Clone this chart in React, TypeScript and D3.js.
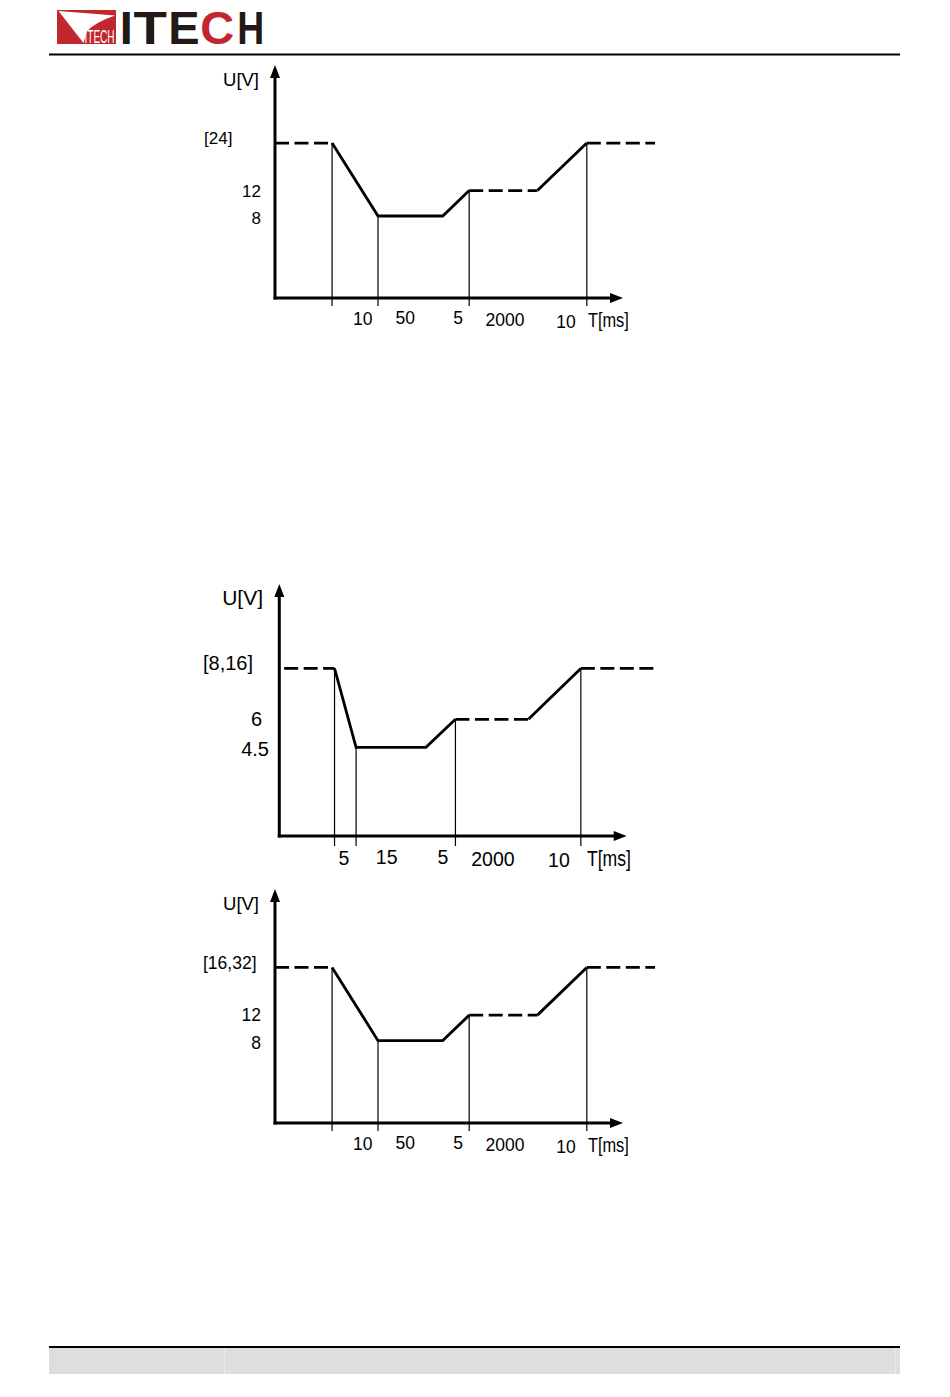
import * as d3 from 'd3';
import React from 'react';

const FONT = '"Liberation Sans", Arial, Helvetica, sans-serif';

// schematic time axis, in axis units: 0 = origin, 100 = arrow tip
// [start, drop, dip reached, dip end, recovery reached, recovery end, nominal reached, end]
const breaksWide = [0, 16.4, 29.6, 48.2, 55.8, 75.4, 89.6, 109.2];
const breaksNarrow = [1.4, 15.9, 22.1, 42.2, 50.7, 71.7, 86.8, 108.2];

// schematic voltage levels, in axis units: [nominal, recovery, dip]
const levelsA = [66.5, 46.1, 35.2];
const levelsB = [66.5, 46.3, 35.2];

const levelLabels12V = ['[24]', '12', '8'];
const levelLabels5V = ['[8,16]', '6', '4.5'];
const levelLabels24V = ['[16,32]', '12', '8'];

// segment durations in ms, written under the time axis
const durations12V = ['10', '50', '5', '2000', '10'];
const durations5V = ['5', '15', '5', '2000', '10'];

// where the duration labels sit on the time axis (axis units)
const durationPosWide = [25.2, 37.4, 52.6, 66.1, 83.6];
const durationPosNarrow = [18.6, 30.9, 47.1, 61.5, 80.5];

interface PanelProps {
  left: number;
  right: number;
  top: number;
  axisY: number;
  breaks: number[];
  levels: number[];
  levelLabels: string[];
  durations: string[];
  durationPos: number[];
  fontSize: number;
  yFont: number;
  unitFont: number;
  unitX: number;
  bracketX: number;
  numRight: number[];
  labelDy: number[];
  tickDrop: number;
  tmsPos: number;
  tmsWidth: number;
}

function Panel(p: PanelProps) {
  const x = d3.scaleLinear().domain([0, 100]).range([p.left, p.right]);
  const y = d3.scaleLinear().domain([0, 100]).range([p.axisY, p.top]);
  const line = d3
    .line<number[]>()
    .x((d) => x(d[0]))
    .y((d) => y(d[1]));

  const [b0, b1, b2, b3, b4, b5, b6, b7] = p.breaks;
  const [hi, mid, lo] = p.levels;

  const dashed = [
    [[b0, hi], [b1, hi]],
    [[b4, mid], [b5, mid]],
    [[b6, hi], [b7, hi]],
  ];
  const solid = [
    [[b1, hi], [b2, lo], [b3, lo], [b4, mid]],
    [[b5, mid], [b6, hi]],
  ];
  const drops = [[b1, hi], [b2, lo], [b4, mid], [b6, hi]];

  const x0 = x(0);
  const y0 = y(0);
  const tipX = x(100);
  const tipY = y(100);

  return (
    <g fontFamily={FONT} fill="#000">
      {drops.map((d, i) => (
        <line
          key={'v' + i}
          x1={x(d[0])}
          x2={x(d[0])}
          y1={y(d[1])}
          y2={y0 + p.tickDrop}
          stroke="#000"
          strokeWidth={1.2}
        />
      ))}
      {/* axes */}
      <line x1={x0} x2={x0} y1={y0 + 1.5} y2={tipY + 10} stroke="#000" strokeWidth={3} />
      <line x1={x0 - 1.5} x2={tipX - 10} y1={y0} y2={y0} stroke="#000" strokeWidth={3} />
      <path d={`M${x0},${tipY} L${x0 - 5},${tipY + 13} L${x0 + 5},${tipY + 13} Z`} />
      <path d={`M${tipX},${y0} L${tipX - 13},${y0 - 5} L${tipX - 13},${y0 + 5} Z`} />

      {solid.map((s, i) => (
        <path
          key={'s' + i}
          d={line(s) || ''}
          fill="none"
          stroke="#000"
          strokeWidth={2.8}
          strokeLinejoin="miter"
        />
      ))}
      {dashed.map((s, i) => (
        <path
          key={'d' + i}
          d={line(s) || ''}
          fill="none"
          stroke="#000"
          strokeWidth={2.8}
          strokeDasharray="14 5.5"
        />
      ))}

      <text x={p.unitX} y={tipY + 21} fontSize={p.unitFont} textAnchor="end">
        U[V]
      </text>

      {p.levelLabels.map((t, i) => (
        <text
          key={'l' + i}
          x={i === 0 ? p.bracketX : p.numRight[i - 1]}
          y={y(p.levels[i]) + (i === 0 ? -5 : i === 2 ? 2 : 0)}
          dy="0.35em"
          fontSize={p.yFont}
          textAnchor={i === 0 ? 'start' : 'end'}
        >
          {t}
        </text>
      ))}

      {p.durations.map((t, i) => (
        <text
          key={'t' + i}
          x={x(p.durationPos[i])}
          y={y0 + p.labelDy[i]}
          fontSize={p.fontSize}
          textAnchor="middle"
        >
          {t}
        </text>
      ))}
      <text
        x={x(p.tmsPos)}
        y={y0 + p.labelDy[5]}
        fontSize={p.fontSize + 2}
        textAnchor="middle"
        textLength={p.tmsWidth}
        lengthAdjust="spacingAndGlyphs"
      >
        T[ms]
      </text>
    </g>
  );
}

function Logo() {
  const dark = '#231916';
  const red = '#c1272d';
  return (
    <g>
      <rect x={57} y={10} width={59} height={34} fill={red} />
      <path d="M58.5,11 L115,15.5 Q96,22 87,31 L83.5,43 Z" fill="#fff" />
      <g transform="translate(84.5,43) scale(1,1.6)">
        <text
          x={0}
          y={0}
          fontFamily={FONT}
          fontSize={11}
          fill="#fff"
          textLength={30}
          lengthAdjust="spacingAndGlyphs"
        >
          ITECH
        </text>
      </g>
      <g fontFamily={FONT} fontSize={47} fontWeight="bold">
        <text x={119.7} y={44} fill={dark}>I</text>
        <text x={133.5} y={44} fill={dark} textLength={33.5} lengthAdjust="spacingAndGlyphs">T</text>
        <text x={168.3} y={44} fill={dark}>E</text>
        <text x={200.2} y={44} fill={red}>C</text>
        <text x={237.2} y={44} fill={dark} textLength={27} lengthAdjust="spacingAndGlyphs">H</text>
      </g>
    </g>
  );
}

export default function App() {
  const wide = { breaks: breaksWide, levels: levelsA, durationPos: durationPosWide };
  return (
    <svg
      width={950}
      height={1397}
      style={{ position: 'absolute', left: 0, top: 0, background: '#fff' }}
    >
      <rect width={950} height={1397} fill="#fff" />
      <Logo />
      <line x1={49} x2={900} y1={54.5} y2={54.5} stroke="#000" strokeWidth={2} />

      <Panel
        {...wide}
        left={275}
        right={623}
        top={65}
        axisY={298}
        levelLabels={levelLabels12V}
        durations={durations12V}
        fontSize={17.5}
        yFont={17}
        unitFont={18.5}
        unitX={259}
        bracketX={204}
        numRight={[261, 261]}
        labelDy={[26.5, 26, 25.5, 28, 30, 29]}
        tickDrop={8}
        tmsPos={95.8}
        tmsWidth={41}
      />
      <Panel
        breaks={breaksNarrow}
        levels={levelsB}
        durationPos={durationPosNarrow}
        left={279.3}
        right={626.7}
        top={584}
        axisY={836}
        levelLabels={levelLabels5V}
        durations={durations5V}
        fontSize={19.5}
        yFont={20}
        unitFont={21}
        unitX={263}
        bracketX={203}
        numRight={[262, 269]}
        labelDy={[29, 28, 28, 30, 31, 30]}
        tickDrop={10}
        tmsPos={94.9}
        tmsWidth={44}
      />
      <Panel
        {...wide}
        left={275}
        right={623}
        top={889}
        axisY={1123}
        levelLabels={levelLabels24V}
        durations={durations12V}
        fontSize={17.5}
        yFont={17.5}
        unitFont={18.5}
        unitX={259}
        bracketX={203}
        numRight={[261, 261]}
        labelDy={[26.5, 26, 25.5, 28, 30, 29]}
        tickDrop={8}
        tmsPos={95.8}
        tmsWidth={41}
      />

      {/* footer */}
      <rect x={49} y={1348} width={851} height={26} fill="#dedede" />
      <line x1={224.5} x2={224.5} y1={1348} y2={1374} stroke="#eaeaea" strokeWidth={1} />
      <line x1={895.5} x2={895.5} y1={1348} y2={1374} stroke="#eaeaea" strokeWidth={1} />
      <line x1={49} x2={900} y1={1347} y2={1347} stroke="#000" strokeWidth={2} />
    </svg>
  );
}
